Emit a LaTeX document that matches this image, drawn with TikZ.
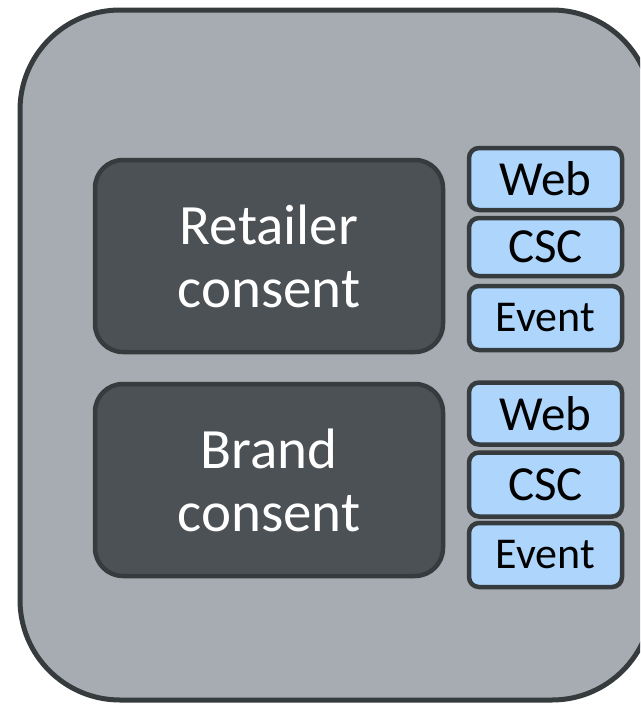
\documentclass[tikz,border=0pt]{standalone}
\usepackage{fontspec}
\setmainfont{Carlito}
\definecolor{edge}{HTML}{363B3E}
\definecolor{panel}{HTML}{A7ABB2}
\definecolor{slate}{HTML}{4B5155}
\definecolor{chip}{HTML}{AED6FD}
\tikzset{
  panelbox/.style={draw=edge, line width=5pt, fill=panel, rounded corners=100pt, inner sep=0pt},
  consentbox/.style={draw=edge, line width=4.5pt, fill=slate, rounded corners=28pt, inner sep=0pt,
    minimum width=348pt, minimum height=192pt, text=white, align=center,
    font=\fontsize{57}{63}\selectfont},
  channelbox/.style={draw=edge, line width=4.5pt, fill=chip, rounded corners=10pt, inner sep=0pt,
    minimum width=153pt, text=black, font=\fontsize{49}{52}\selectfont},
  eventfont/.style={font=\fontsize{44}{48}\selectfont},
}
\begin{document}
\begin{tikzpicture}[x=1pt,y=-1pt]
\useasboundingbox (0,0) rectangle (640,704);
\clip (0,0) rectangle (640,704);
% outer panel
\node[panelbox, minimum width=632pt, minimum height=690pt] (panel) at (336,355) {};
% consent groups
\node[consentbox] (retailer) at (269,256) {Retailer\\consent};
\node[consentbox] (brand) at (269,480) {Brand\\consent};
% channels of the retailer group
\node[channelbox, minimum height=62pt] (web1) at (545.5,179) {Web};
\node[channelbox, minimum height=58pt] (csc1) at (545.5,247) {CSC};
\node[channelbox, minimum height=64pt, eventfont] (event1) at (545.5,318) {Event};
% channels of the brand group
\node[channelbox, minimum height=62pt] (web2) at (545.5,413.5) {Web};
\node[channelbox, minimum height=64pt] (csc2) at (545.5,484.5) {CSC};
\node[channelbox, minimum height=64pt, eventfont] (event2) at (545.5,555) {Event};
\end{tikzpicture}
\end{document}
